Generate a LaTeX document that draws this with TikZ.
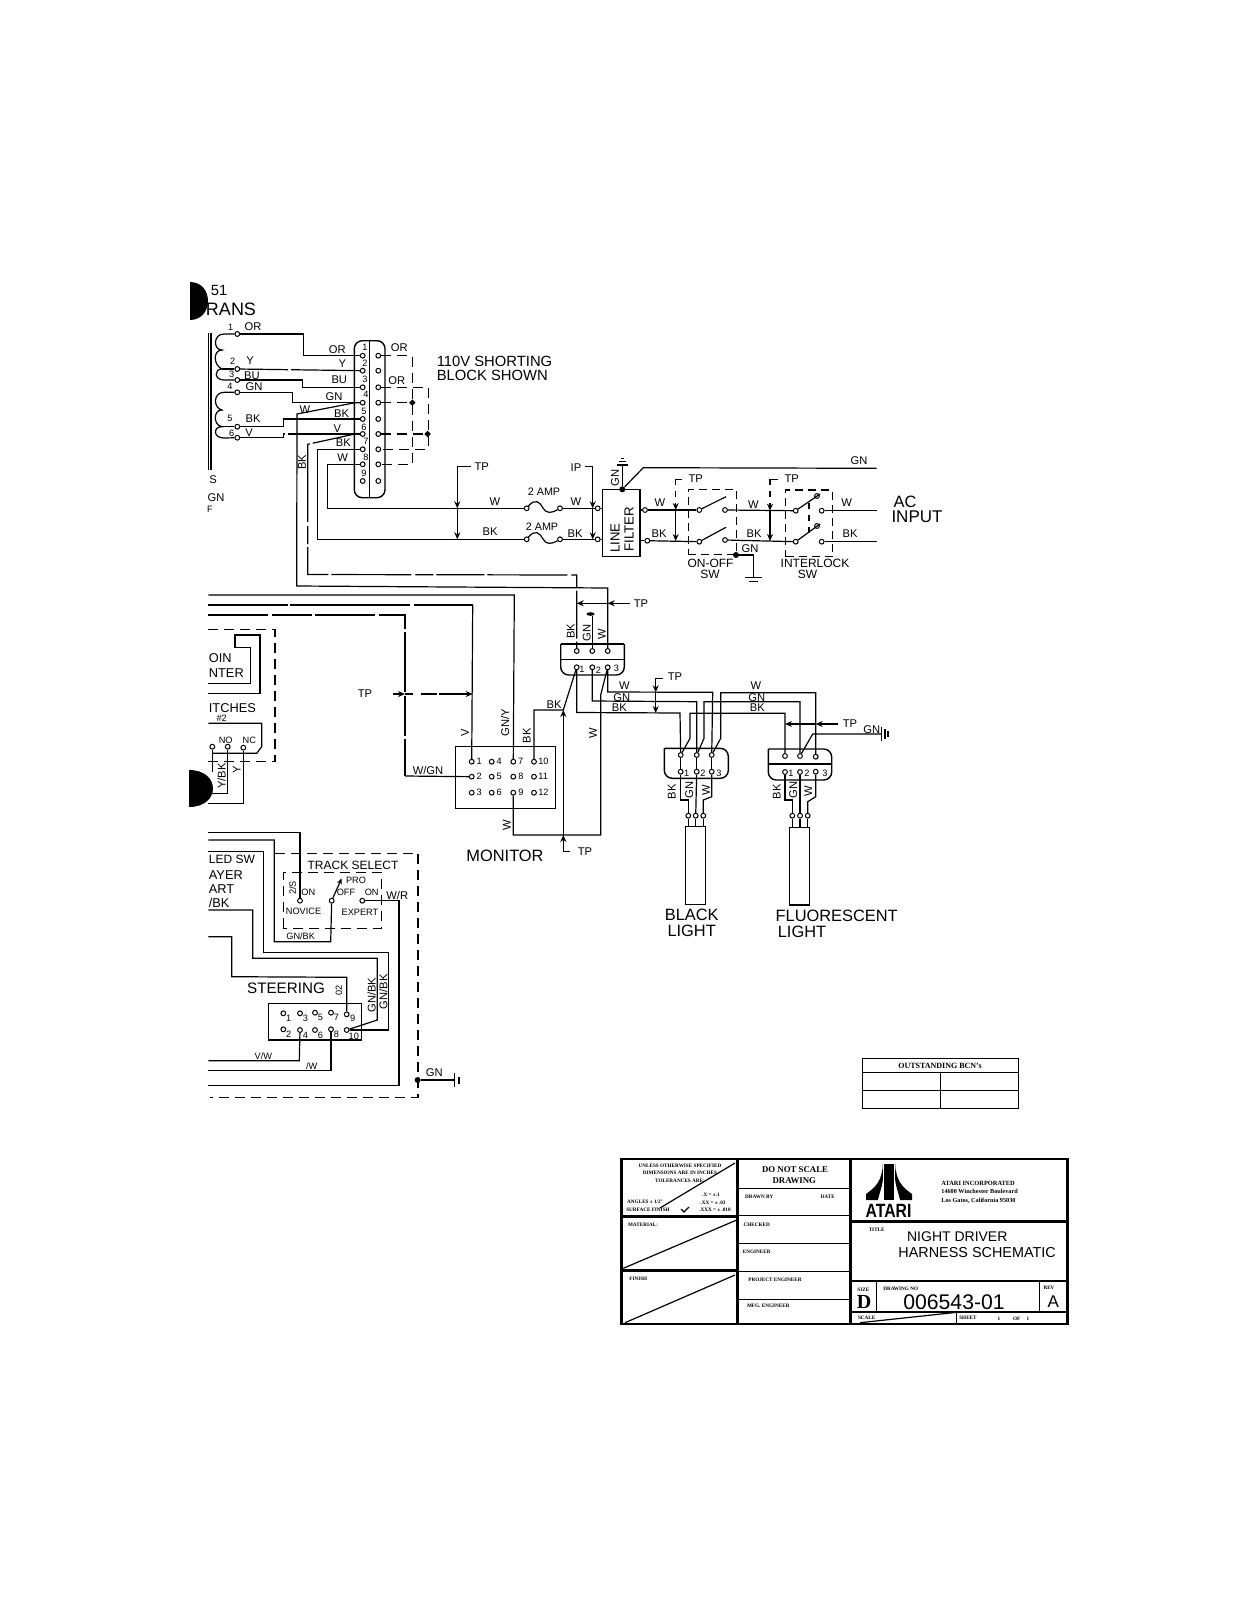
\documentclass[tikz,border=0pt]{standalone}
\usepackage{fontspec}
\setmainfont{Liberation Serif}
\setsansfont{Liberation Sans}
\usetikzlibrary{arrows.meta,shapes.geometric}
\tikzset{
  wire/.style={draw=black,line width=0.6pt},
  brk/.style={wire,dash pattern=on 24pt off 1.5pt on 40pt off 2pt on 9pt off 1.5pt},
  dwire/.style={wire,dash pattern=on 5pt off 3pt},
  arr/.style={wire,-{Stealth[length=3.5pt,width=3pt]}},
  term/.style={circle,draw=black,fill=white,line width=0.5pt,inner sep=0pt,minimum size=2.4pt},
  dot/.style={circle,fill=black,inner sep=0pt,minimum size=3pt},
  dia/.style={diamond,fill=black,inner sep=0pt,minimum size=3.4pt},
  tag/.style={font=\sffamily\fontsize{5.6}{6}\selectfont,inner sep=0pt},
  num/.style={font=\sffamily\fontsize{4.6}{5}\selectfont,inner sep=0pt},
  big/.style={font=\sffamily\fontsize{8.2}{9}\selectfont,inner sep=0pt},
  box/.style={draw=black,line width=0.7pt,inner sep=0pt},
  heavy/.style={draw=black,line width=1.3pt},
  bar/.style={draw=black,line width=0.7pt},
  fine/.style={font=\rmfamily\bfseries\fontsize{2.6}{3}\selectfont,inner sep=0pt},
  head/.style={font=\rmfamily\bfseries\fontsize{4.4}{5}\selectfont,inner sep=0pt},
}
\begin{document}
\begin{tikzpicture}[x=0.5pt,y=-0.5pt]
\useasboundingbox (0,0) rectangle (1237,1600);
% transformer
\node[big,font=\sffamily\fontsize{9}{10}\selectfont] (tname) at (231,309.5) {RANS};
\node[big,font=\sffamily\fontsize{7.4}{8}\selectfont] (tnum) at (219,290.5) {51};
\draw[wire] (208.3,333) -- (208.3,470);
\draw[wire] (211,333) -- (211,470);
\begin{scope}[every node/.style={term}]
    \node (tr1) at (237.3,334) {};
    \node (tr2) at (237.3,369) {};
    \node (tr3) at (237.3,380) {};
    \node (tr4) at (237.3,392.3) {};
    \node (tr5) at (237.3,426.7) {};
    \node (tr6) at (237.3,437.7) {};
\end{scope}
\draw[wire] (tr1) -- (224,334) .. controls (213,334) and (213,350) .. (222,350)
    .. controls (213,350) and (213,365) .. (222,369) .. controls (214,369) and (214,380) .. (224,380) -- (tr3);
\draw[wire] (tr2) -- (222,369);
\draw[wire] (tr4) -- (224,392.3) .. controls (213,392.3) and (213,408) .. (222,410)
    .. controls (213,410) and (213,425) .. (222,426.7) .. controls (213,426.7) and (213,438) .. (224,438) -- (tr6);
\draw[wire] (tr5) -- (222,426.7);
\node[tag] (lOR) at (253,327) {OR};
\node[tag] (lY) at (250,361) {Y};
\node[tag] (lBU) at (252,376) {BU};
\node[tag] (lGN) at (254,387) {GN};
\node[tag] (lBK) at (253,419) {BK};
\node[tag] (lV) at (249,433) {V};
\node[num] (n1) at (230.7,327) {1};
\node[num] (n2) at (232.7,361) {2};
\node[num] (n3) at (231.7,374) {3};
\node[num] (n4) at (230,386) {4};
\node[num] (n5) at (230,418) {5};
\node[num] (n6) at (231.7,433) {6};
\node[tag] (cutS) at (213,479.3) {S};
\node[tag] (cutN) at (216,497.7) {GN};
\node[num] (cutF) at (210,509) {F};
% shorting block
\draw[bar,rounded corners=4pt] (354.3,340.7) rectangle (385,497.7);
\draw[bar] (369.3,340.7) -- (369.3,497.7);
\begin{scope}[every node/.style={term}]
    \node (cl1) at (362.7,355.7) {};
    \node (cl2) at (362.7,370.7) {};
    \node (cl3) at (362.7,387.3) {};
    \node (cl4) at (362.7,402.7) {};
    \node (cl5) at (362.7,419) {};
    \node (cl6) at (362.7,434) {};
    \node (cl7) at (362.7,449.3) {};
    \node (cl8) at (362.7,464.3) {};
    \node (cl9) at (362.7,481) {};
    \node (cr1) at (378.3,355.7) {};
    \node (cr2) at (378.3,370.7) {};
    \node (cr3) at (378.3,387.3) {};
    \node (cr4) at (378.3,402.7) {};
    \node (cr5) at (378.3,419) {};
    \node (cr6) at (378.3,434) {};
    \node (cr7) at (378.3,449.3) {};
    \node (cr8) at (378.3,464.3) {};
    \node (cr9) at (378.3,481) {};
\end{scope}
\node[num] (p1) at (365,347.5) {1};
\node[num] (p2) at (365,363) {2};
\node[num] (p3) at (365,379.5) {3};
\node[num] (p4) at (366,394.5) {4};
\node[num] (p5) at (364,411) {5};
\node[num] (p6) at (364,427) {6};
\node[num] (p7) at (366,441.5) {7};
\node[num] (p8) at (366,457.5) {8};
\node[num] (p9) at (364,473) {9};
\draw[wire] (tr1) -- (303.3,334) -- (303.3,355.7) -- (cl1);
\draw[brk] (tr2) -- (cl2);
\draw[wire] (tr3) -- (302.7,380) -- (302.7,387.3) -- (cl3);
\draw[wire] (tr4) -- (292.7,392.3) -- (292.7,402.7) -- (cl4);
\draw[wire] (tr5) -- (283.3,426.7) -- (283.3,419) -- (cl5);
\draw[brk] (tr6) -- (283.3,437.7) -- (283.3,434) -- (cl6);
\node[tag] (oOR1) at (337.3,349.3) {OR};
\node[tag] (oY) at (342.3,363.3) {Y};
\node[tag] (oBU) at (339.3,380) {BU};
\node[tag] (oGN) at (334,396.7) {GN};
\node[tag] (oBK1) at (341.7,413.3) {BK};
\node[tag] (oV) at (337.3,428.3) {V};
\node[tag] (oBK2) at (343.3,442.7) {BK};
\node[tag] (oW) at (342.7,457.7) {W};
\node[tag] (oW2) at (305,409.5) {W};
\node[tag,rotate=90] (oBK3) at (302,462) {BK};
\node[tag] (rOR1) at (399.3,347.7) {OR};
\node[tag] (rOR2) at (396.7,380.7) {OR};
\node[tag,font=\sffamily\fontsize{7.4}{7.2}\selectfont,align=left] (sb) at (494.5,368.5) {110V SHORTING\\BLOCK SHOWN};
\node[dia] (d4) at (412.3,402.7) {};
\node[dia] (d6) at (427.7,434) {};
\draw[dwire] (cr1) -- (412.3,355.7) -- (412.3,464.3) -- (cr8);
\draw[dwire] (cr3) -- (428.3,387.3) -- (428.3,449.3) -- (cr7);
\draw[dwire] (cr4) -- (d4);
\draw[dwire] (cr6) -- (d6);
% power wires
\coordinate (bkT) at (576.7,575);
\begin{scope}[every node/.style={term}]
    \node (fuA1) at (526.7,508.3) {};
    \node (fuA2) at (560,508.3) {};
    \node (fuB1) at (526.7,539.3) {};
    \node (fuB2) at (560,539.3) {};
    \node (flA1) at (597.7,508.3) {};
    \node (flB1) at (597.7,539.3) {};
    \node (flA2) at (645,510) {};
    \node (flB2) at (647.3,540.7) {};
    \node (onA1) at (699.3,510) {};
    \node (onA2) at (725,510) {};
    \node (onB1) at (699.3,541.7) {};
    \node (onB2) at (725,540) {};
    \node (inA1) at (795.7,510.7) {};
    \node (inA2) at (821.7,510.7) {};
    \node (inB1) at (795.7,541.7) {};
    \node (inB2) at (821.7,541.7) {};
    \node (inC1) at (817,496) {};
    \node (inC2) at (817,526) {};
\end{scope}
\draw[wire] (cl7) -- (317.7,449.3) -- (317.7,539.3) -- (fuB1);
\draw[wire] (cl8) -- (327.3,464.3) -- (327.3,508.3) -- (fuA1);
\draw[wire] (fuA1) .. controls (535,498) and (540,502) .. (543,508) .. controls (546,514) and (552,513) .. (fuA2);
\draw[wire] (fuB1) .. controls (535,529) and (540,533) .. (543,539) .. controls (546,545) and (552,544) .. (fuB2);
\draw[wire] (fuA2) -- (flA1);
\draw[wire] (fuB2) -- (flB1);
\node[tag] (fW) at (495,502) {W};
\node[tag] (fBK) at (490,531.5) {BK};
\node[tag,font=\sffamily\fontsize{5.4}{6}\selectfont] (amp1) at (544,492) {2 AMP};
\node[tag,font=\sffamily\fontsize{5.4}{6}\selectfont] (amp2) at (542,527) {2 AMP};
\node[tag] (f2W) at (576,502) {W};
\node[tag] (f2BK) at (575,534) {BK};
% line filter
\node[box,minimum width=18.7pt,minimum height=33.7pt] (filter) at (621.3,523) {};
\node[tag,rotate=90,font=\sffamily\fontsize{6.6}{7}\selectfont] (fLine) at (615,538) {LINE};
\node[tag,rotate=90,font=\sffamily\fontsize{6.6}{7}\selectfont] (fFilter) at (629,529) {FILTER};
\draw[wire] (flA1) -- (flA1 -| filter.west);
\draw[wire] (flB1) -- (flB1 -| filter.west);
\draw[wire] (flA2) -- (flA2 -| filter.east);
\draw[wire] (flB2) -- (flB2 -| filter.east);
\node[dot] (fdot) at (622.3,489.3) {};
\coordinate (gTop) at (622.3,465);
\coordinate (gnR) at (876.7,468.3);
\draw[wire] (fdot) -- (gTop);
\draw[wire] (616.7,465) -- (628,465);
\draw[wire] (618.5,461.7) -- (626,461.7);
\draw[wire] (620.7,458.3) -- (624,458.3);
\draw[wire] (fdot) -- (643.3,467.7) -- (gnR);
\node[tag,rotate=90] (gFl) at (615,478) {GN};
\node[tag] (gnL) at (859,460.7) {GN};
\node[tag] (flW) at (660,503) {W};
\node[tag] (flBK) at (659,534) {BK};
% switches
\node[box,line width=0.55pt,dash pattern=on 4pt off 2.5pt,minimum width=23.9pt,minimum height=32.9pt] (onoff) at (712.2,522) {};
\node[box,line width=0.55pt,dash pattern=on 4pt off 2.5pt,minimum width=23.5pt,minimum height=33.3pt] (ilock) at (809.2,523.3) {};
\coordinate (acW) at (876.7,510.7);
\coordinate (acB) at (876.7,541.7);
\draw[wire] (flA2) -- (onA1);
\draw[wire] (flB2) -- (onB1);
\draw[wire] (onA1) -- (726,496.7);
\draw[wire] (onB1) -- (726,527.3);
\draw[wire] (onA2) -- (inA1);
\draw[wire] (onB2) -- (inB1);
\draw[wire] (inA1) -- (820,494);
\draw[wire] (inB1) -- (820,524);
\draw[wire,dashed] (809,503) -- (809,533);
\draw[wire] (inA2) -- (acW);
\draw[wire] (inB2) -- (acB);
\node[tag] (onW) at (753.3,505) {W};
\node[tag] (onBK) at (754,534) {BK};
\node[tag] (inW) at (846.7,503) {W};
\node[tag] (inBK) at (850,534) {BK};
\node[big] (acT) at (905,501.7) {AC};
\node[big,font=\sffamily\fontsize{8.5}{9}\selectfont] (acI) at (917,516.7) {INPUT};
\node[tag,font=\sffamily\fontsize{6}{6}\selectfont] (onT1) at (710.5,563) {ON-OFF};
\node[tag,font=\sffamily\fontsize{6}{6}\selectfont] (onT2) at (710,574.5) {SW};
\node[tag,font=\sffamily\fontsize{6}{6}\selectfont] (inT1) at (815,563) {INTERLOCK};
\node[tag,font=\sffamily\fontsize{6}{6}\selectfont] (inT2) at (807.5,574.5) {SW};
\node[dot] (gdot) at (736,555) {};
\coordinate (gBot) at (753.3,577.3);
\draw[wire] (gdot) -- (753.3,555) -- (gBot);
\draw[wire] (745,577.3) -- (761.5,577.3);
\draw[wire] (749,581.7) -- (757.5,581.7);
\node[tag] (gnB) at (750,548.5) {GN};
% test points top
\coordinate (tpA) at (457.3,466.7);
\coordinate (tpA1) at (457.3,508.3);
\coordinate (tpA2) at (457.3,539.3);
\draw[arr] (tpA) -- (tpA1);
\draw[arr] (tpA1) -- (tpA2);
\draw[wire] (tpA) -- (471,466.7);
\node[tag] (tpAt) at (481.7,467) {TP};
\coordinate (tpB) at (592.7,466.7);
\coordinate (tpB1) at (592.7,508.3);
\coordinate (tpB2) at (592.7,539.3);
\draw[arr] (tpB) -- (tpB1);
\draw[arr] (tpB1) -- (tpB2);
\draw[wire] (tpB) -- (585,466.7);
\node[tag] (tpBt) at (576,468) {IP};
\coordinate (tpC) at (675.7,479.3);
\coordinate (tpC1) at (675.7,510);
\coordinate (tpC2) at (675.7,541);
\draw[arr,dashed] (tpC) -- (tpC1);
\draw[arr] (tpC1) -- (tpC2);
\draw[wire] (tpC) -- (682,479.3);
\node[tag] (tpCt) at (695.7,478.5) {TP};
\coordinate (tpD) at (770,479.3);
\coordinate (tpD1) at (770,510.7);
\coordinate (tpD2) at (770,541);
\draw[arr,dashed] (tpD) -- (tpD1);
\draw[arr] (tpD1) -- (tpD2);
\draw[wire] (tpD) -- (778,479.3);
\node[tag] (tpDt) at (791.7,478.5) {TP};
% junction
\draw[bar] (560.7,644) -- (624.3,644);
\draw[bar] (560.7,659.3) -- (624.3,659.3);
\draw[bar,rounded corners=4pt] (560.7,644) -- (560.7,675) -- (624.3,675) -- (624.3,644);
\begin{scope}[every node/.style={term}]
    \node (jt1) at (576.7,651) {};
    \node (jt2) at (592.3,651) {};
    \node (jt3) at (607.7,651) {};
    \node (jb1) at (576.7,667.3) {};
    \node (jb2) at (592.3,667.3) {};
    \node (jb3) at (607.7,667.3) {};
\end{scope}
\node[num] (j1) at (582,669) {1};
\node[num] (j2) at (598.5,670) {2};
\node[num] (j3) at (616.5,668.5) {3};
\node[tag,rotate=90] (jBK) at (570.7,631) {BK};
\node[tag,rotate=90] (jGN) at (586.7,632.7) {GN};
\node[tag,rotate=90] (jW) at (601.7,634.3) {W};
\node[ellipse,fill=black,inner sep=0pt,minimum width=4pt,minimum height=1.8pt] (jg) at (590.5,614) {};
\draw[wire] (jt2) -- (jt2 |- jg.south);
\draw[brk] (cl6) -- (355,434) -- (307.7,444.3) -- (307.7,574.5) -- (bkT) -- (jt1);
\draw[wire] (cl4) -- (355,402.7) -- (297,414) -- (296.7,586) -- (607.7,588) -- (jt3);
% test point junction
\coordinate (tpE) at (630,603.3);
\coordinate (tpE1) at (607.7,603.3);
\coordinate (tpE2) at (576.7,603.3);
\draw[arr] (tpE) -- (tpE1);
\draw[arr] (tpE1) -- (tpE2);
\node[tag] (tpEt) at (641,603.3) {TP};
% left panel
\coordinate (wGY) at (208.3,595);
\coordinate (wV) at (208.3,605);
\coordinate (wWG) at (208.3,615);
\draw[wire,dash pattern=on 40pt off 1pt on 60pt off 2pt] (wV) -- (472.7,605);
\draw[wire,dash pattern=on 30pt off 2pt on 20pt off 1.5pt] (wWG) -- (405,615) -- (405,776);
\draw[dwire] (208.3,629.3) -- (275,629.3) -- (275,761.7) -- (208.3,761.7);
\draw[wire] (208.3,683.3) -- (250.7,683.3) -- (250.7,647.3) -- (235,647.3) -- (235,635) -- (260,635) -- (260,693.3) -- (208.3,693.3);
\node[tag,anchor=west,font=\sffamily\fontsize{6.4}{7}\selectfont] (cn1) at (208.5,657.7) {OIN};
\node[tag,anchor=west,font=\sffamily\fontsize{6.4}{7}\selectfont] (cn2) at (208.5,673) {NTER};
\node[tag,anchor=west,font=\sffamily\fontsize{6.4}{7}\selectfont] (sw1t) at (208.5,708) {ITCHES};
\node[num] (sw2t) at (221.7,718) {\#2};
\draw[wire] (208.3,723.3) -- (261.7,723.3) -- (261.7,746.7) -- (256.7,753.3) -- (213,753.3);
\begin{scope}[every node/.style={term}]
    \node (sw1) at (212.3,746.7) {};
    \node (sw2) at (227.7,746.7) {};
    \node (sw3) at (243.3,747.7) {};
\end{scope}
\coordinate (swA) at (212.3,772);
\coordinate (swB) at (208.3,793.3);
\coordinate (swC) at (208.3,803.3);
\draw[wire] (sw1) -- (swA);
\draw[wire] (sw2) -- (227.7,793.3) -- (swB);
\draw[wire] (sw3) -- (243.3,803.3) -- (swC);
\node[num] (swNO) at (225.7,740) {NO};
\node[num] (swNC) at (249.3,740.5) {NC};
\node[tag,rotate=90] (swYB) at (221.7,776) {Y/BK};
\node[tag,rotate=90] (swY) at (236.7,770) {Y};
% monitor
\node[box,minimum width=50pt,minimum height=30.8pt] (mon) at (505.7,777.5) {};
\begin{scope}[every node/.style={term}]
    \node[label={[num]right:1}] (m1) at (471.7,761.7) {};
    \node[label={[num]right:4}] (m4) at (491.7,761.7) {};
    \node[label={[num]right:7}] (m7) at (513.3,761.7) {};
    \node[label={[num]right:10}] (m10) at (534,761.7) {};
    \node[label={[num]right:2}] (m2) at (471.7,776.7) {};
    \node[label={[num]right:5}] (m5) at (491.7,776.7) {};
    \node[label={[num]right:8}] (m8) at (513.3,776.7) {};
    \node[label={[num]right:11}] (m11) at (534,776.7) {};
    \node[label={[num]right:3}] (m3) at (471.7,792.7) {};
    \node[label={[num]right:6}] (m6) at (491.7,792.7) {};
    \node[label={[num]right:9}] (m9) at (513.3,792.7) {};
    \node[label={[num]right:12}] (m12) at (534,792.7) {};
\end{scope}
\draw[wire] (wGY) -- (514.3,595) -- (m7);
\draw[wire] (472.7,605) -- (m1);
\draw[wire] (405,776) -- (m2);
\draw[wire] (m10) -- (534,710) -- (563.3,710) -- (jb1);
\draw[wire] (m9) -- (513.3,835) -- (600.7,835) -- (600.7,695) -- (jb3);
\node[tag,rotate=90] (mV) at (465,732.7) {V};
\node[tag,rotate=90] (mGY) at (505,723) {GN/Y};
\node[tag,rotate=90] (mBK) at (526.7,735.7) {BK};
\node[tag] (mWG) at (428,770.7) {W/GN};
\node[tag] (mBK2) at (554,705) {BK};
\node[tag,rotate=90] (mW1) at (593,733) {W};
\node[tag,rotate=90] (mW2) at (506.7,825) {W};
\node[big] (mName) at (505,856) {MONITOR};
% test points monitor
\node[tag] (tpFt) at (365,694) {TP};
\coordinate (tpF) at (393,694);
\coordinate (tpF1) at (405,694);
\coordinate (tpF2) at (472.7,694);
\draw[arr] (tpF) -- (tpF1);
\draw[arr,dash pattern=on 4pt off 4pt on 8pt off 1pt on 20pt off 0pt] (tpF1) -- (tpF2);
\coordinate (tpG) at (570,851.7);
\coordinate (tpG1) at (563.3,835);
\coordinate (tpG2) at (563.3,710);
\draw[arr] (tpG) -- (563.3,851.7) -- (tpG1);
\draw[arr] (tpG1) -- (tpG2);
\node[tag] (tpGt) at (585,851.7) {TP};
% lights
\draw[bar,rounded corners=4pt] (664.3,748.3) -- (664.3,778.3) -- (728.3,778.3) -- (728.3,748.3) -- (664.3,748.3);
\draw[bar,rounded corners=4pt] (768.3,749) -- (768.3,780) -- (831.7,780) -- (831.7,749) -- (768.3,749);
\draw[bar] (768.3,764) -- (831.7,764);
\begin{scope}[every node/.style={term}]
    \node (bt1) at (680.7,755) {};
    \node (bt2) at (696.7,755) {};
    \node (bt3) at (711.7,755) {};
    \node (bb1) at (680.7,771.7) {};
    \node (bb2) at (696.7,771.7) {};
    \node (bb3) at (711.7,771.7) {};
    \node (bk1) at (688.3,815.7) {};
    \node (bk2) at (695.7,815.7) {};
    \node (bk3) at (703.3,815.7) {};
    \node (ft1) at (785,756) {};
    \node (ft2) at (800,756) {};
    \node (ft3) at (815.7,756.7) {};
    \node (fm1) at (785,772) {};
    \node (fm2) at (800,772) {};
    \node (fm3) at (815.7,771.7) {};
    \node (fk1) at (792.3,815.7) {};
    \node (fk2) at (800,815.7) {};
    \node (fk3) at (807.7,815.7) {};
\end{scope}
\node[num] (bn1) at (686.7,773) {1};
\node[num] (bn2) at (703,773) {2};
\node[num] (bn3) at (719,773) {3};
\node[num] (fn1) at (791,773) {1};
\node[num] (fn2) at (807,773) {2};
\node[num] (fn3) at (825,773) {3};
\draw[wire] (jb1) -- (576.7,712.5) -- (680,713) -- (bt1);
\draw[wire] (jb2) -- (592.3,701) -- (696.7,701.7) -- (bt2);
\draw[wire] (jb3) -- (607.7,692) -- (712.7,692.3) -- (bt3);
\draw[wire] (bt1) -- (690,738.3) -- (690,713.3) -- (785,713.3) -- (ft1);
\draw[wire] (bt2) -- (704,738.3) -- (704,701.7) -- (800,701.7) -- (ft2);
\draw[wire] (bt3) -- (720.7,738.3) -- (720.7,692.7) -- (815.7,692.7) -- (ft3);
\draw[wire] (bt1) -- (bb1);
\draw[wire] (bt2) -- (bb2);
\draw[wire] (bt3) -- (bb3);
\draw[wire] (bb1) -- (680.7,800) -- (688.3,800) -- (bk1);
\draw[wire] (bb2) -- (bk2);
\draw[wire] (bb3) -- (711.7,796.7) -- (703.3,800) -- (bk3);
\draw[wire] (fm1) -- (785,800) -- (792.3,800) -- (fk1);
\draw[wire] (fm2) -- (fk2);
\draw[wire] (fm3) -- (815.7,796.7) -- (807.7,801.7) -- (fk3);
\node[box,minimum width=10pt,minimum height=38.8pt] (blk) at (695.7,865.5) {};
\node[box,minimum width=10pt,minimum height=38.8pt] (flu) at (799.3,866) {};
\draw[wire] (bk1) -- (bk1 |- blk.north);
\draw[wire] (bk2) -- (bk2 |- blk.north);
\draw[wire] (bk3) -- (bk3 |- blk.north);
\draw[wire] (fk1) -- (fk1 |- flu.north);
\draw[wire] (fk2) -- (fk2 |- flu.north);
\draw[wire] (fk3) -- (fk3 |- flu.north);
\node[tag,rotate=90] (bBK) at (671.7,791.7) {BK};
\node[tag,rotate=90] (bGN) at (689.3,790) {GN};
\node[tag,rotate=90] (bW) at (706,790) {W};
\node[tag,rotate=90] (fBKl) at (776.7,791.7) {BK};
\node[tag,rotate=90] (fGNl) at (793.3,790) {GN};
\node[tag,rotate=90] (fWl) at (808.3,791.7) {W};
\node[big] (blk1) at (691.7,915) {BLACK};
\node[big] (blk2) at (691.7,931) {LIGHT};
\node[big] (flu1) at (836.7,916) {FLUORESCENT};
\node[big] (flu2) at (802,932) {LIGHT};
\node[tag] (w1l) at (624.3,685.7) {W};
\node[tag] (g1l) at (621.7,697.3) {GN};
\node[tag] (b1l) at (619.3,707.3) {BK};
\node[tag] (w2l) at (756,686) {W};
\node[tag] (g2l) at (756.7,697.3) {GN};
\node[tag] (b2l) at (757.3,707.3) {BK};
% test points lights
\coordinate (tpH) at (655.7,678.3);
\coordinate (tpH1) at (655.7,692.3);
\coordinate (tpH2) at (655.7,713);
\draw[wire] (tpH) -- (663.3,678.3);
\draw[arr] (tpH) -- (tpH1);
\draw[arr] (tpH1) -- (tpH2);
\node[tag] (tpHt) at (675,677) {TP};
\coordinate (tpI) at (838.3,724);
\coordinate (tpI1) at (815.7,724);
\coordinate (tpI2) at (785,724);
\draw[arr] (tpI) -- (tpI1);
\draw[arr] (tpI1) -- (tpI2);
\node[tag] (tpIt) at (850,724) {TP};
\coordinate (gnF) at (881.7,734);
\draw[wire] (ft2) -- (812.7,734) -- (gnF);
\draw[wire] (881.7,727) -- (881.7,741);
\draw[wire] (885,729) -- (885,739);
\draw[wire] (888,731) -- (888,737);
\node[tag] (gnFl) at (871.7,730) {GN};
% lower panel
\node[tag,anchor=west,font=\sffamily\fontsize{6}{7}\selectfont] (s1t) at (208.5,859.3) {LED SW};
\node[tag,anchor=west,font=\sffamily\fontsize{6.4}{7}\selectfont] (s2t) at (208.5,875) {AYER};
\node[tag,anchor=west,font=\sffamily\fontsize{6.4}{7}\selectfont] (s3t) at (208.5,889.3) {ART};
\node[tag,anchor=west,font=\sffamily\fontsize{6.4}{7}\selectfont] (s4t) at (208.5,903.3) {/BK};
\begin{scope}[every node/.style={term}]
    \node (ts1) at (300,900.7) {};
    \node (ts2) at (331.7,900.7) {};
    \node (ts3) at (362.3,900.7) {};
\end{scope}
\draw[dwire] (283.3,928.3) rectangle (381.7,872.7);
\coordinate (w1) at (208.3,832.3);
\coordinate (w2) at (208.3,840);
\coordinate (w3) at (208.3,851.7);
\coordinate (w4) at (208.3,910);
\coordinate (w5) at (208.3,936.7);
\coordinate (w6) at (208.3,1085.7);
\coordinate (w7) at (208.3,1060.7);
\coordinate (w8) at (208.3,1070.7);
\coordinate (lev) at (341.7,878.3);
\draw[wire] (w1) -- (300,832.3) -- (ts1);
\draw[wire] (w2) -- (274.3,840) -- (274.3,941.7) -- (330.7,941.7) -- (ts2);
\draw[wire,-{Stealth[length=3pt,width=2.4pt]}] (ts2) -- (lev);
\node[tag,font=\sffamily\fontsize{6}{7}\selectfont] (trk) at (353,865) {TRACK SELECT};
\node[num] (on1) at (308.3,892.7) {ON};
\node[num] (off) at (346,892.7) {OFF};
\node[num] (on2) at (371.7,892.7) {ON};
\node[num] (pro) at (356,880) {PRO};
\node[num] (nov) at (303.5,911.7) {NOVICE};
\node[num] (exp) at (360,912.7) {EXPERT};
\node[num] (gb) at (300.7,936) {GN/BK};
\node[num,rotate=90] (lS) at (292.7,888) {2/S};
\node[tag] (wr) at (397.3,895) {W/R};
% steering
\node[box,minimum width=46.7pt,minimum height=18.3pt] (steer) at (315,1021.7) {};
\begin{scope}[every node/.style={term}]
    \node[label={[num]-40:1}] (st1) at (283.3,1013.3) {};
    \node[label={[num]-40:3}] (st3) at (300,1013.3) {};
    \node[label={[num]-40:5}] (st5) at (315,1012.7) {};
    \node[label={[num]-40:7}] (st7) at (331,1012.7) {};
    \node[label={[num]-20:9}] (st9) at (346.7,1014.3) {};
    \node[label={[num]-40:2}] (st2) at (283.3,1029.3) {};
    \node[label={[num]-40:4}] (st4) at (300,1030) {};
    \node[label={[num]-40:6}] (st6) at (315,1030) {};
    \node[label={[num]-40:8}] (st8) at (331,1029.3) {};
    \node[label={[num]-30:10}] (st10) at (346.7,1030) {};
\end{scope}
\draw[wire] (w3) -- (263.3,851.7) -- (263.3,952.7) -- (388.3,952.7) -- (388.3,1030) -- (st10);
\draw[wire] (w4) -- (252.7,910) -- (252.7,958.3) -- (377.3,958.3) -- (377.3,1020) -- (st10);
\draw[wire] (w5) -- (231.7,936.7) -- (231.7,976.7) -- (346.7,977.3) -- (st9);
\draw[wire] (ts3) -- (399,900.7) -- (399,1085.7) -- (w6);
\draw[wire] (st4) -- (299.3,1060.7) -- (w7);
\draw[wire] (st8) -- (331,1070.7) -- (w8);
\node[big,font=\sffamily\fontsize{7.6}{8}\selectfont] (stN) at (286,988) {STEERING};
\node[num,rotate=90] (st02) at (339,990) {02};
\node[tag,rotate=90] (stG1) at (371.7,995) {GN/BK};
\node[tag,rotate=90] (stG2) at (383.3,991.7) {GN/BK};
\node[num] (vw) at (263.3,1056) {V/W};
\node[num] (sw) at (311.7,1066) {/W};
% outer dashed
\node[dot] (gndL) at (417.7,1080) {};
\draw[dwire] (275,853.3) -- (418,853.3) -- (418,1097.3) -- (210,1097.3);
\coordinate (gR) at (454.3,1080);
\draw[wire] (gndL) -- (gR);
\draw[wire] (454.3,1073) -- (454.3,1087);
\draw[wire] (459,1076.5) -- (459,1083.5);
\node[tag] (gLab) at (434.3,1073) {GN};
% punch holes
\fill (190,282) .. controls (214,282) and (214,320) .. (190,320) -- cycle;
\fill (189,770) .. controls (221,770) and (221,807) .. (189,807) -- cycle;
% outstanding BCN table
\draw[bar] (862.7,1058.3) rectangle (1018.3,1108.3);
\draw[bar] (862.7,1072.7) -- (1018.3,1072.7);
\draw[bar] (862.7,1090.7) -- (1018.3,1090.7);
\draw[bar] (940.7,1072.7) -- (940.7,1108.3);
\node[head,font=\rmfamily\bfseries\fontsize{4}{5}\selectfont] (bcn) at (940,1065.5) {OUTSTANDING BCN's};
% title block
\draw[heavy] (621.7,1159) rectangle (1067.3,1324);
\draw[heavy] (737.7,1159) -- (737.7,1324);
\draw[heavy] (850.5,1159) -- (850.5,1324);
\draw[heavy] (621.7,1216.7) -- (737.7,1216.7);
\draw[heavy] (621.7,1270.5) -- (737.7,1270.5);
\draw[bar] (737.7,1188.3) -- (850.5,1188.3);
\draw[bar] (737.7,1215.7) -- (850.5,1215.7);
\draw[bar] (737.7,1243.3) -- (850.5,1243.3);
\draw[bar] (737.7,1271.7) -- (850.5,1271.7);
\draw[bar] (737.7,1299.3) -- (850.5,1299.3);
\draw[heavy] (850.5,1221.7) -- (1067.3,1221.7);
\draw[heavy] (850.5,1281) -- (1067.3,1281);
\draw[bar] (850.5,1312) -- (1067.3,1312);
\draw[bar] (876.7,1281) -- (876.7,1312);
\draw[bar] (1039.3,1281) -- (1039.3,1312);
\draw[bar] (956.7,1312) -- (956.7,1324);
\draw[wire] (660,1208) -- (735,1163);
\draw[wire] (623.3,1268.3) -- (736.7,1220);
\draw[wire] (625,1322.7) -- (735,1275);
\draw[wire] (860,1322.7) -- (956.7,1312.3);
\node[fine] (u1) at (680,1165.7) {UNLESS OTHERWISE SPECIFIED};
\node[fine] (u2) at (680,1172.7) {DIMENSIONS ARE IN INCHES};
\node[fine] (u3) at (680,1180.7) {TOLERANCES ARE:};
\node[fine] (u4) at (645,1201.7) {ANGLES ± 1/2°};
\node[fine] (u5) at (648,1210) {SURFACE FINISH};
\node[fine] (u6) at (711,1195) {.X = ±.1};
\node[fine] (u7) at (713,1202.5) {.XX = ± .03};
\node[fine] (u8) at (715,1210) {.XXX = ± .010};
\draw[wire] (681,1209) -- (684,1212) -- (689,1207);
\node[fine] (u9) at (643,1225) {MATERIAL:};
\node[fine] (u10) at (638.3,1278.3) {FINISH};
\node[head] (d1) at (795,1169.3) {DO NOT SCALE};
\node[head] (d2) at (794.3,1180.7) {DRAWING};
\node[fine] (d3) at (759.3,1196.7) {DRAWN BY};
\node[fine] (d4t) at (827.7,1196.7) {DATE};
\node[fine] (d5) at (756.7,1224.3) {CHECKED};
\node[fine] (d6t) at (756.7,1251.7) {ENGINEER};
\node[fine] (d7) at (775,1279.3) {PROJECT ENGINEER};
\node[fine] (d8) at (768.3,1305.7) {MFG. ENGINEER};
% atari logo
\fill (884.3,1164) rectangle (894,1200);
\fill (882.5,1164) .. controls (882.5,1180) and (876,1187) .. (866,1194) -- (866,1200) -- (878,1200) .. controls (880,1190) and (883,1186) .. (883,1176) -- cycle;
\fill (895.5,1164) .. controls (895.5,1180) and (902,1187) .. (912,1194) -- (912,1200) -- (900,1200) .. controls (898,1190) and (895,1186) .. (895,1176) -- cycle;
\node[inner sep=0pt,xscale=.82,font=\sffamily\bfseries\fontsize{9.6}{10}\selectfont] (atari) at (888.5,1211) {ATARI};
\node[fine,anchor=west,font=\rmfamily\bfseries\fontsize{3.2}{4}\selectfont] (a1) at (941,1183.3) {ATARI INCORPORATED};
\node[fine,anchor=west,font=\rmfamily\bfseries\fontsize{3.1}{4}\selectfont] (a2) at (941,1191.7) {14600 Winchester Boulevard};
\node[fine,anchor=west,font=\rmfamily\bfseries\fontsize{3.1}{4}\selectfont] (a3) at (941,1200.7) {Los Gatos, California 95030};
\node[fine] (t0) at (876.7,1229.3) {TITLE};
\node[tag,anchor=west,font=\sffamily\fontsize{7}{8}\selectfont] (t1) at (906.7,1236.7) {NIGHT DRIVER};
\node[tag,anchor=west,font=\sffamily\fontsize{7.2}{8}\selectfont] (t2) at (898,1252.7) {HARNESS SCHEMATIC};
\node[fine] (sz) at (863.3,1289.3) {SIZE};
\node[inner sep=0pt,font=\rmfamily\bfseries\fontsize{10}{10}\selectfont] (szD) at (864,1301.5) {D};
\node[fine] (dn) at (900.7,1289) {DRAWING NO};
\node[inner sep=0pt,font=\sffamily\fontsize{10.6}{11}\selectfont] (dno) at (954,1302.3) {006543-01};
\node[fine] (rv) at (1049,1288.3) {REV};
\node[inner sep=0pt,font=\sffamily\fontsize{8.5}{9}\selectfont] (rvA) at (1053.3,1301.7) {A};
\node[fine] (sc) at (866.7,1318) {SCALE};
\node[fine] (shk) at (968,1318) {SHEET};
\node[fine] (sh1) at (999,1319) {1};
\node[fine] (sho) at (1016.7,1319) {OF};
\node[fine] (sh2) at (1028,1319) {1};
\end{tikzpicture}
\end{document}
